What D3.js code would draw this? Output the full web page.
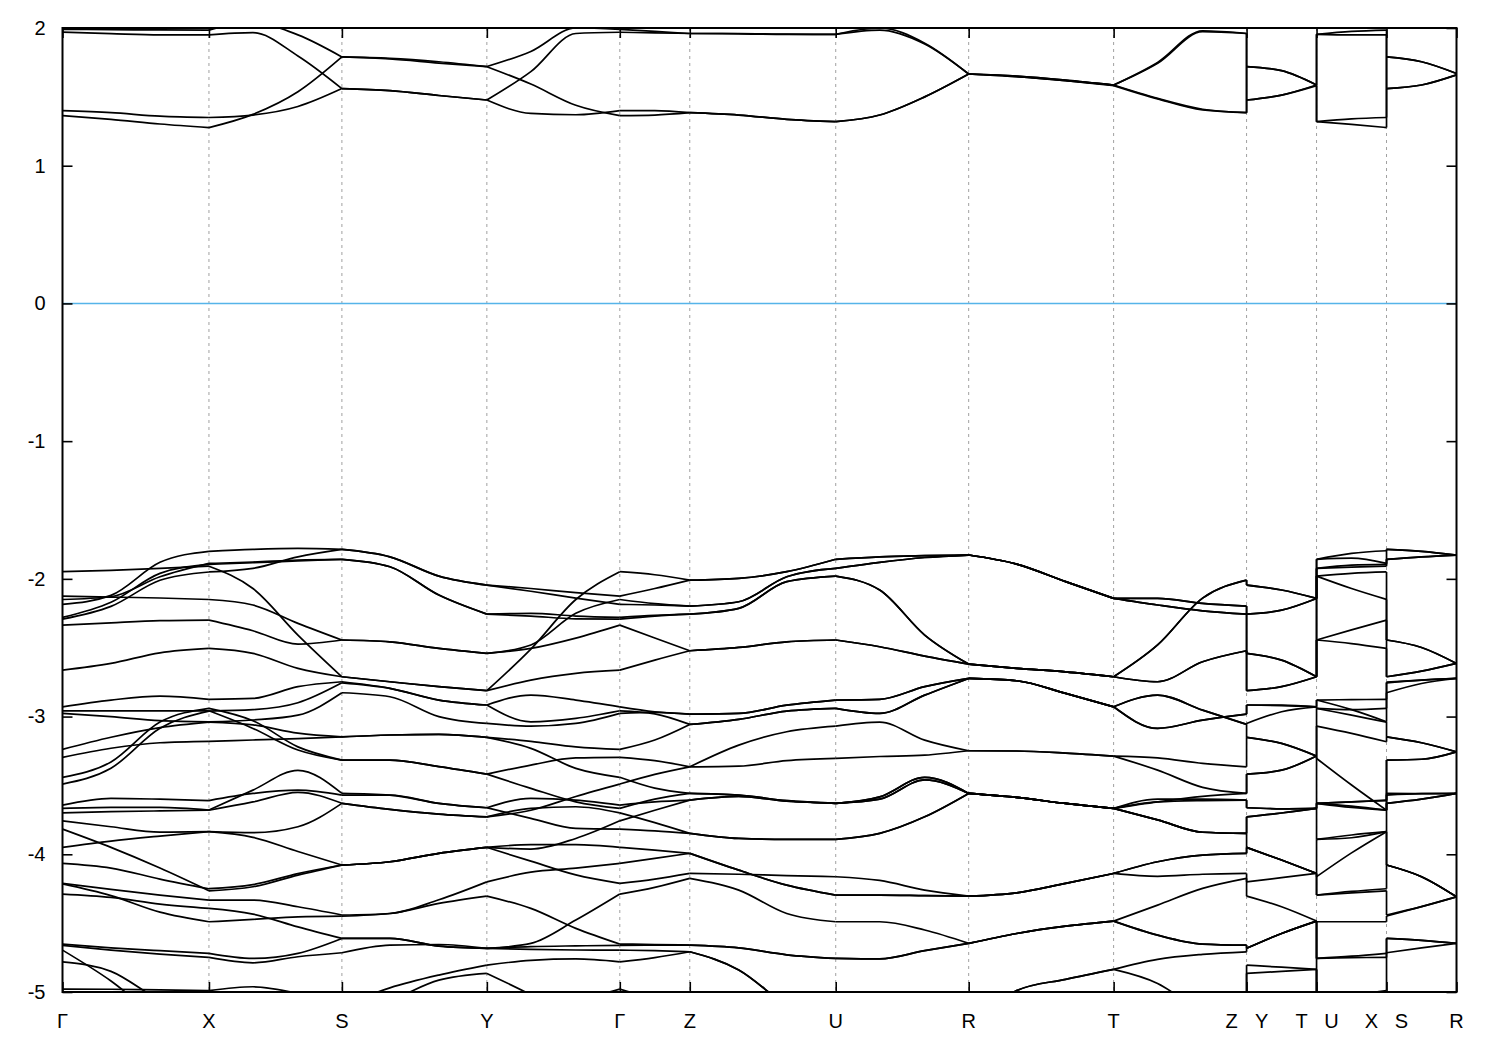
<!DOCTYPE html>
<html><head><meta charset="utf-8">
<script src="https://cdn.jsdelivr.net/npm/d3@7"></script>
<style>body{margin:0;background:#fff}svg{display:block}</style>
</head><body>
<svg id="chart" width="1500" height="1050"></svg>
<script>
// k-path sample positions (path length units); duplicates mark the Z|Y, T|U, X|S breaks
const kPath = [0,0.0485,0.0975,0.1465, 0.1905,0.2355,0.2795, 0.3275,0.3765,0.4245, 0.4685,0.5135,0.5575, 0.5925,0.6275, 0.6765,0.7245,0.7735, 0.8175,0.8625,0.9065, 0.9545,1.0035,1.0515, 1.0955,1.1405,1.1845, 1.1845,1.2195,1.2545, 1.2545,1.2895,1.3245, 1.3245,1.3595,1.3945];
const kTicks = [0,0.1465,0.2795,0.4245,0.5575,0.6275,0.7735,0.9065,1.0515,1.1845,1.2545,1.3245,1.3945];
const kLabels = ["Γ","X","S","Y","Γ","Z","U","R","T","Z|Y","T|U","X|S","R"];
const yTicks = [2,1,0,-1,-2,-3,-4,-5];
const pieces = [[0,3],[3,6],[6,9],[9,12],[12,14],[14,17],[17,20],[20,23],[23,26],[27,29],[30,32],[33,35]];
const jumps = [[26,27],[29,30],[32,33]];
const fermi = 0;

// conduction bands (eV)
const c1 = [1.364,1.337,1.303,1.277, 1.373,1.537,1.79, 1.775,1.745,1.719, 1.593,1.439,1.364, 1.368,1.385, 1.368,1.337,1.32, 1.368,1.50,1.666, 1.651,1.622,1.586, 1.489,1.41,1.385, 1.72,1.69,1.586, 1.32,1.30,1.277, 1.79,1.755,1.67];
const c2 = [1.40,1.385,1.36,1.35, 1.368,1.43,1.56, 1.545,1.51,1.477, 1.38,1.37,1.40, 1.40,1.385, 1.368,1.337,1.32, 1.368,1.50,1.666, 1.646,1.617,1.582, 1.485,1.405,1.385, 1.477,1.513,1.582, 1.32,1.34,1.35, 1.56,1.586,1.66];
const c3 = [1.97,1.959,1.95,1.95, 1.966,1.797,1.56, 1.545,1.51,1.477, 1.683,1.96,1.969, 1.965,1.96, 1.958,1.954,1.954, 1.985,1.884,1.666, 1.646,1.617,1.586, 1.744,1.973,1.96, 1.477,1.513,1.586, 1.954,1.95,1.95, 1.56,1.586,1.66];
const c4 = [1.99,1.988,1.986,1.985, 2.04,1.95,1.79, 1.78,1.755,1.72, 1.83,2.0,1.99, 1.975,1.96, 1.96,1.955,1.954, 2.0,1.89,1.666, 1.651,1.622,1.586, 1.75,1.98,1.96, 1.72,1.69,1.586, 1.954,1.975,1.985, 1.79,1.755,1.67];

// valence bands (eV)
const v1 = [-2.185,-2.12,-1.88,-1.80, -1.786,-1.779,-1.786, -1.84,-1.98,-2.045, -2.07,-2.10,-2.125, -2.07,-2.009, -1.996,-1.948,-1.858, -1.84,-1.832,-1.827, -1.893,-2.02,-2.142, -2.142,-2.178,-2.198, -2.256,-2.227,-2.142, -1.924,-1.915,-1.908, -1.858,-1.84,-1.827];
const v2 = [-2.15,-2.13,-1.985,-1.888, -1.878,-1.863,-1.858, -1.912,-2.118,-2.256, -2.25,-2.27,-2.28, -2.265,-2.256, -2.214,-2.02,-1.98, -2.081,-2.408,-2.619, -2.65,-2.675,-2.711, -2.48,-2.14,-2.009, -2.045,-2.081,-2.142, -1.858,-1.815,-1.796, -1.786,-1.80,-1.827];
const v3 = [-2.28,-2.17,-1.96,-1.895, -1.883,-1.869,-1.858, -1.912,-2.118,-2.256, -2.27,-2.29,-2.292, -2.27,-2.256, -2.214,-2.02,-1.98, -2.081,-2.408,-2.619, -2.65,-2.675,-2.711, -2.48,-2.14,-2.009, -2.045,-2.081,-2.142, -1.858,-1.85,-1.888, -1.786,-1.80,-1.827];
const v4 = [-1.948,-1.938,-1.924,-1.908, -2.07,-2.408,-2.711, -2.747,-2.783,-2.812, -2.51,-2.15,-1.948, -1.97,-2.009, -1.996,-1.948,-1.858, -1.84,-1.832,-1.827, -1.893,-2.02,-2.142, -2.142,-2.178,-2.198, -2.256,-2.227,-2.142, -1.924,-1.90,-1.895, -1.858,-1.84,-1.827];
const v5 = [-2.292,-2.20,-2.01,-1.95, -1.924,-1.84,-1.786, -1.84,-1.98,-2.045, -2.09,-2.14,-2.185, -2.19,-2.198, -2.166,-1.985,-1.924, -1.88,-1.845,-1.827, -1.893,-2.02,-2.142, -2.19,-2.232,-2.256, -2.541,-2.59,-2.711, -1.98,-2.07,-2.149, -2.444,-2.498,-2.614];
const v6 = [-2.125,-2.132,-2.139,-2.15, -2.19,-2.323,-2.444, -2.457,-2.505,-2.541, -2.48,-2.25,-2.15, -2.18,-2.198, -2.166,-1.985,-1.924, -1.88,-1.845,-1.827, -1.893,-2.02,-2.142, -2.19,-2.232,-2.256, -2.541,-2.59,-2.711, -1.98,-1.96,-1.95, -2.444,-2.498,-2.614];
const v7 = [-2.336,-2.319,-2.304,-2.30, -2.377,-2.474,-2.444, -2.457,-2.505,-2.541, -2.505,-2.43,-2.336, -2.43,-2.522, -2.498,-2.457,-2.444, -2.493,-2.561,-2.619, -2.65,-2.675,-2.711, -2.747,-2.602,-2.522, -2.812,-2.783,-2.711, -2.444,-2.37,-2.30, -2.711,-2.67,-2.614];
const v8 = [-2.663,-2.614,-2.537,-2.505, -2.541,-2.65,-2.711, -2.747,-2.783,-2.812, -2.735,-2.686,-2.663, -2.59,-2.522, -2.498,-2.457,-2.444, -2.493,-2.561,-2.619, -2.65,-2.675,-2.711, -2.747,-2.602,-2.522, -2.812,-2.783,-2.711, -2.444,-2.47,-2.505, -2.711,-2.67,-2.614];
const v9 = [-2.929,-2.88,-2.851,-2.875, -2.868,-2.783,-2.747, -2.795,-2.88,-2.916, -2.844,-2.88,-2.929, -2.965,-2.982, -2.977,-2.917,-2.88, -2.875,-2.783,-2.723, -2.74,-2.832,-2.929, -2.844,-2.953,-3.057, -3.05,-2.965,-2.929, -2.94,-2.95,-2.94, -2.755,-2.735,-2.723];
const v10 = [-2.958,-2.958,-2.958,-2.958, -3.086,-3.243,-3.316, -3.316,-3.364,-3.418, -3.352,-3.30,-3.296, -3.32,-3.365, -3.207,-3.11,-3.069, -3.04,-3.171,-3.248, -3.25,-3.265,-3.287, -3.30,-3.34,-3.365, -3.151,-3.195,-3.287, -3.069,-3.122,-3.183, -3.147,-3.19,-3.256];
const v11 = [-2.977,-3.0,-3.03,-3.038, -3.025,-2.99,-2.827, -2.856,-3.00,-3.05, -3.07,-3.05,-2.977, -2.97,-2.982, -2.977,-2.917,-2.88, -2.875,-2.783,-2.723, -2.74,-2.832,-2.929, -2.844,-2.953,-3.057, -3.151,-3.195,-3.287, -2.94,-2.99,-3.04, -3.147,-3.19,-3.256];
const v12 = [-3.441,-3.33,-3.04,-2.94, -3.03,-3.22,-3.316, -3.316,-3.364,-3.418, -3.521,-3.619,-3.667, -3.60,-3.558, -3.57,-3.611,-3.63, -3.583,-3.441,-3.558, -3.587,-3.631,-3.667, -3.60,-3.60,-3.607, -3.662,-3.67,-3.667, -3.63,-3.65,-3.68, -3.57,-3.56,-3.558];
const v13 = [-3.49,-3.375,-3.085,-2.96, -2.95,-2.90,-2.755, -2.795,-2.88,-2.916, -3.038,-3.013,-2.958, -2.98,-3.057, -3.02,-2.96,-2.94, -2.977,-2.844,-2.723, -2.74,-2.832,-2.929, -3.086,-3.026,-2.982, -2.916,-2.916,-2.929, -2.88,-2.877,-2.875, -2.75,-2.735,-2.723];
const v14 = [-3.238,-3.15,-3.08,-3.04, -3.06,-3.12,-3.147, -3.134,-3.13,-3.151, -3.18,-3.22,-3.238, -3.17,-3.057, -3.02,-2.96,-2.94, -2.977,-2.844,-2.723, -2.74,-2.832,-2.929, -3.086,-3.026,-2.982, -2.916,-2.92,-2.929, -2.88,-2.95,-3.038, -2.827,-2.76,-2.723];
const v15 = [-3.296,-3.23,-3.19,-3.18, -3.17,-3.16,-3.147, -3.134,-3.13,-3.151, -3.231,-3.376,-3.441, -3.52,-3.558, -3.57,-3.611,-3.63, -3.583,-3.441,-3.558, -3.587,-3.631,-3.667, -3.62,-3.58,-3.558, -3.418,-3.389,-3.287, -3.63,-3.62,-3.607, -3.316,-3.31,-3.256];
const v16 = [-3.643,-3.594,-3.60,-3.61, -3.558,-3.534,-3.57, -3.57,-3.63,-3.662, -3.594,-3.607,-3.643, -3.62,-3.607, -3.58,-3.615,-3.63, -3.60,-3.46,-3.558, -3.587,-3.631,-3.667, -3.62,-3.61,-3.607, -3.662,-3.67,-3.667, -3.63,-3.62,-3.61, -3.316,-3.31,-3.256];
const v17 = [-3.667,-3.66,-3.66,-3.679, -3.534,-3.39,-3.558, -3.57,-3.63,-3.662, -3.739,-3.812,-3.817, -3.83,-3.848, -3.885,-3.892,-3.892, -3.848,-3.728,-3.558, -3.587,-3.631,-3.667, -3.75,-3.84,-3.848, -3.728,-3.70,-3.667, -3.892,-3.86,-3.836, -3.63,-3.60,-3.558];
const v18 = [-3.699,-3.69,-3.685,-3.68, -3.62,-3.55,-3.63, -3.674,-3.708,-3.728, -3.667,-3.655,-3.699, -3.77,-3.848, -3.885,-3.892,-3.892, -3.848,-3.728,-3.558, -3.587,-3.631,-3.667, -3.75,-3.84,-3.848, -3.95,-4.042,-4.139, -3.892,-3.88,-3.836, -4.078,-4.163,-4.309];
const v19 = [-3.757,-3.80,-3.839,-3.836, -3.843,-3.80,-3.63, -3.674,-3.708,-3.728, -3.68,-3.58,-3.49, -3.42,-3.365, -3.36,-3.32,-3.304, -3.29,-3.28,-3.248, -3.25,-3.265,-3.287, -3.389,-3.514,-3.558, -3.418,-3.389,-3.287, -3.304,-3.497,-3.68, -3.63,-3.60,-3.558];
const v20 = [-3.817,-3.95,-4.10,-4.265, -4.236,-4.151,-4.078, -4.054,-3.993,-3.95, -3.962,-3.885,-3.757, -3.68,-3.607, -3.58,-3.615,-3.63, -3.60,-3.46,-3.558, -3.587,-3.631,-3.667, -3.75,-3.84,-3.848, -3.728,-3.70,-3.667, -3.63,-3.66,-3.679, -3.558,-3.56,-3.558];
const v21 = [-3.95,-3.904,-3.868,-3.836, -3.877,-3.98,-4.078, -4.054,-3.993,-3.95, -3.93,-3.93,-3.95, -3.97,-3.993, -4.115,-4.224,-4.296, -4.296,-4.30,-4.304, -4.28,-4.211,-4.139, -4.054,-4.006,-3.993, -3.95,-4.042,-4.139, -4.163,-3.99,-3.836, -4.078,-4.163,-4.309];
const v22 = [-4.066,-4.10,-4.18,-4.25, -4.22,-4.14,-4.078, -4.054,-3.993,-3.95, -4.05,-4.15,-4.211, -4.18,-4.139, -4.145,-4.155,-4.163, -4.19,-4.26,-4.304, -4.28,-4.211,-4.139, -4.16,-4.145,-4.139, -4.20,-4.17,-4.139, -4.296,-4.28,-4.265, -4.441,-4.38,-4.309];
const v23 = [-4.211,-4.255,-4.296,-4.333, -4.333,-4.381,-4.441, -4.43,-4.33,-4.20, -4.13,-4.10,-4.066, -4.03,-3.993, -4.115,-4.224,-4.296, -4.296,-4.30,-4.304, -4.28,-4.211,-4.139, -4.054,-4.006,-3.993, -3.95,-4.042,-4.139, -4.296,-4.27,-4.25, -4.078,-4.163,-4.309];
const v24 = [-4.289,-4.313,-4.362,-4.393, -4.434,-4.527,-4.611, -4.611,-4.667,-4.683, -4.647,-4.478,-4.289, -4.24,-4.175, -4.26,-4.43,-4.49, -4.49,-4.55,-4.647, -4.575,-4.522,-4.485, -4.369,-4.248,-4.175, -4.304,-4.381,-4.485, -4.49,-4.49,-4.49, -4.449,-4.38,-4.309];
const v25 = [-4.215,-4.30,-4.42,-4.49, -4.473,-4.454,-4.449, -4.43,-4.357,-4.304, -4.393,-4.538,-4.652, -4.655,-4.66, -4.68,-4.73,-4.756, -4.76,-4.70,-4.647, -4.575,-4.522,-4.485, -4.587,-4.652,-4.66, -4.683,-4.575,-4.485, -4.756,-4.74,-4.719, -4.611,-4.625,-4.647];
const v26 = [-4.652,-4.679,-4.70,-4.719, -4.756,-4.719,-4.611, -4.611,-4.667,-4.683, -4.67,-4.665,-4.662, -4.66,-4.66, -4.68,-4.73,-4.756, -4.76,-4.70,-4.647, -4.575,-4.522,-4.485, -4.587,-4.652,-4.66, -4.683,-4.575,-4.485, -4.756,-4.75,-4.749, -4.611,-4.625,-4.647];
const v27 = [-4.662,-4.696,-4.725,-4.749, -4.788,-4.744,-4.715, -4.66,-4.655,-4.683, -4.69,-4.695,-4.696, -4.70,-4.708, -4.84,-5.1,-5.3, -5.4,-5.4,-5.4, -4.99,-4.908,-4.836, -4.763,-4.727,-4.708, -4.683,-4.575,-4.485, -5.3,-5.05,-4.99, -4.715,-4.68,-4.647];
const v28 = [-4.696,-4.92,-5.2,-5.4, -5.5,-5.5,-5.5, -5.5,-5.45,-5.4, -5.25,-5.08,-4.979, -5.05,-5.1, -5.2,-5.3,-5.4, -5.5,-5.5,-5.5, -5.5,-5.5,-5.5, -5.5,-5.45,-5.4, -4.865,-4.85,-4.836, -5.3,-5.3,-5.3, -5.15,-5.3,-5.4];
const v29 = [-4.781,-4.85,-5.06,-5.2, -5.3,-5.3,-5.15, -5.06,-4.914,-4.865, -5.02,-5.2,-5.3, -5.4,-5.5, -5.5,-5.5,-5.5, -5.5,-5.5,-5.5, -5.5,-5.5,-5.5, -5.5,-5.5,-5.5, -5.3,-5.3,-5.3, -5.4,-5.4,-5.4, -5.5,-5.5,-5.5];
const v30 = [-4.979,-4.98,-4.985,-4.99, -4.962,-5.01,-5.1, -4.97,-4.877,-4.805, -4.77,-4.76,-4.781, -4.75,-4.708, -4.84,-5.1,-5.3, -5.4,-5.4,-5.4, -4.99,-4.908,-4.836, -4.938,-5.15,-5.3, -4.805,-4.82,-4.836, -5.3,-5.3,-5.3, -5.1,-5.2,-5.3];

const bands = [c1,c2,c3,c4,v1,v2,v3,v4,v5,v6,v7,v8,v9,v10,v11,v12,v13,v14,v15,v16,v17,v18,v19,v20,v21,v22,v23,v24,v25,v26,v27,v28,v29,v30];

const W = 1500, H = 1050;
const plot = {left: 62.5, right: 1456.5, top: 28, bottom: 992};
const FONT = '"Liberation Sans", Arial, Helvetica, sans-serif';
const svg = d3.select("#chart");
const x = d3.scaleLinear().domain([kPath[0], kPath[kPath.length - 1]]).range([plot.left, plot.right]);
const y = d3.scaleLinear().domain([-5, 2]).range([plot.bottom, plot.top]);

svg.append("rect").attr("width", W).attr("height", H).attr("fill", "#fff");
svg.append("defs").append("clipPath").attr("id", "clip")
  .append("rect").attr("x", plot.left).attr("y", plot.top)
  .attr("width", plot.right - plot.left).attr("height", plot.bottom - plot.top);

// dashed verticals at high-symmetry points
svg.append("g").selectAll("line").data(kTicks.slice(1, -1)).join("line")
  .attr("x1", d => x(d)).attr("x2", d => x(d))
  .attr("y1", plot.top).attr("y2", plot.bottom)
  .attr("stroke", "#a0a0a0").attr("stroke-width", 1).attr("stroke-dasharray", "3,4");

// Fermi level
svg.append("line").attr("x1", plot.left).attr("x2", plot.right)
  .attr("y1", y(fermi)).attr("y2", y(fermi))
  .attr("stroke", "#56b4e9").attr("stroke-width", 1.6);

// bands
const smooth = d3.line().x(d => x(d[0])).y(d => y(d[1])).curve(d3.curveMonotoneX);
const straight = d3.line().x(d => x(d[0])).y(d => y(d[1]));
const gb = svg.append("g").attr("clip-path", "url(#clip)")
  .attr("fill", "none").attr("stroke", "#000").attr("stroke-width", 1.7)
  .attr("stroke-linejoin", "round");
bands.forEach(b => {
  pieces.forEach(([s, e]) => {
    const pts = d3.range(s, e + 1).map(i => [kPath[i], b[i]]);
    gb.append("path").attr("d", smooth(pts));
  });
  jumps.forEach(([a, c]) => {
    gb.append("path").attr("d", straight([[kPath[a], b[a]], [kPath[c], b[c]]]));
  });
});

// axes (inward ticks)
function styleAxis(g) {
  g.select(".domain").remove();
  g.selectAll(".tick line").attr("stroke", "#000").attr("stroke-width", 1.6);
  g.selectAll("text").attr("font-family", FONT).attr("font-size", 20).attr("fill", "#000");
}
svg.append("g").attr("transform", `translate(${plot.left},0)`)
  .call(d3.axisLeft(y).tickValues(yTicks).tickSize(-10).tickPadding(17).tickFormat(d => String(d)))
  .call(styleAxis);
svg.append("g").attr("transform", `translate(${plot.right},0)`)
  .call(d3.axisRight(y).tickValues(yTicks).tickSize(-10).tickFormat(""))
  .call(styleAxis);
svg.append("g").attr("transform", `translate(0,${plot.top})`)
  .call(d3.axisTop(x).tickValues(kTicks).tickSize(-10).tickFormat(""))
  .call(styleAxis);
svg.append("g").attr("transform", `translate(0,${plot.bottom})`)
  .call(d3.axisBottom(x).tickValues(kTicks).tickSize(-10).tickFormat(""))
  .call(styleAxis);

// border
svg.append("rect").attr("x", plot.left).attr("y", plot.top)
  .attr("width", plot.right - plot.left).attr("height", plot.bottom - plot.top)
  .attr("fill", "none").attr("stroke", "#000").attr("stroke-width", 2);

// k-point labels
const labelData = [];
kTicks.forEach((k, i) => {
  const parts = kLabels[i].split("|");
  if (parts.length === 1) labelData.push({t: parts[0], px: x(k)});
  else { labelData.push({t: parts[0], px: x(k) - 15}); labelData.push({t: parts[1], px: x(k) + 15}); }
});
svg.append("g").selectAll("text").data(labelData).join("text")
  .attr("x", d => d.px).attr("y", 1028).attr("text-anchor", "middle")
  .attr("font-family", FONT).attr("font-size", 20).attr("fill", "#000")
  .text(d => d.t);
</script>
</body></html>
